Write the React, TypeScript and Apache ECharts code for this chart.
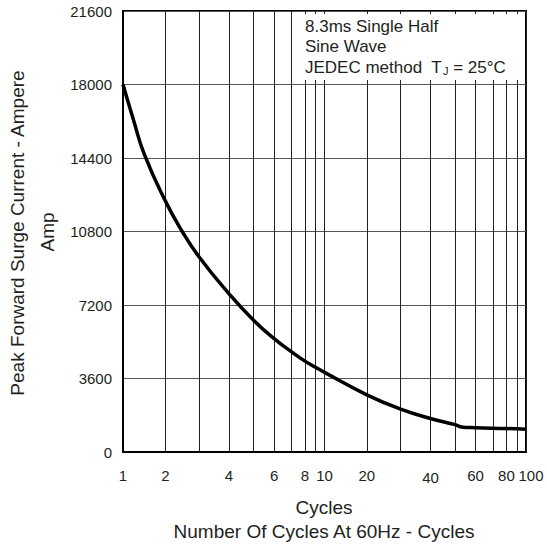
import React, { useEffect, useRef } from "react";
import * as echarts from "echarts";

// ---- data ----
const CYCLES = [1, 1.25, 1.5, 2, 2.5, 3, 4, 5, 6, 7, 8, 9, 10, 20, 30, 40, 50, 53, 60, 80, 100];
const SURGE_AMPS = [18000, 16250, 14600, 12300, 10800, 9550, 7750, 6450, 5550, 4900, 4450, 4150, 3900, 2800, 2100, 1640, 1340, 1225, 1190, 1150, 1110];

// grid lines and labelled ticks of the cycles axis
const X_GRID = [1, 2, 3, 4, 5, 6, 7, 8, 9, 10, 20, 30, 40, 50, 60, 70, 80, 90, 100];
const X_TICK_LABELS = [1, 2, 4, 6, 8, 10, 20, 40, 60, 80, 100];
const Y_TICKS = [0, 3600, 7200, 10800, 14400, 18000, 21600];

// the chart's (hand-drawn, quasi-logarithmic) decade scale: where each mantissa sits within a decade
const MANTISSA = [1, 2, 3, 4, 5, 6, 7, 8, 9, 10];
const DECADE_FRACTION = [0, 0.21, 0.378, 0.526, 0.648, 0.75, 0.837, 0.903, 0.955, 1];

function toPos(c: number): number {
  if (c >= 100) return 2;
  const d = c < 10 ? 0 : 1;
  const m = c / Math.pow(10, d);
  for (let i = 0; i < MANTISSA.length - 1; i++) {
    if (m >= MANTISSA[i] && m <= MANTISSA[i + 1]) {
      const t = (m - MANTISSA[i]) / (MANTISSA[i + 1] - MANTISSA[i]);
      return d + DECADE_FRACTION[i] + t * (DECADE_FRACTION[i + 1] - DECADE_FRACTION[i]);
    }
  }
  return d;
}

const FONT = "Liberation Sans, Arial, Helvetica, sans-serif";
const INK = "#231f20";

export default function App() {
  const ref = useRef<HTMLDivElement>(null);
  useEffect(() => {
    if (!ref.current) return;
    const chart = echarts.init(ref.current, null, { renderer: "svg" });
    const labelMap: Record<string, string> = {};
    X_TICK_LABELS.forEach((c) => {
      labelMap[toPos(c).toFixed(5)] = String(c);
    });
    const lastLabel = X_TICK_LABELS[X_TICK_LABELS.length - 1];
    chart.setOption({
      animation: false,
      backgroundColor: "#fff",
      grid: {
        left: 123,
        right: 21,
        top: 11,
        bottom: 93,
        show: true,
        borderColor: "#000",
        borderWidth: 2,
        backgroundColor: "transparent",
      },
      xAxis: {
        type: "value",
        min: 0,
        max: 2,
        axisLine: { show: true, lineStyle: { color: "#000", width: 2 } },
        axisTick: { show: false, customValues: X_GRID.map(toPos) },
        splitLine: { show: true, lineStyle: { color: "#222", width: 1 } },
        axisLabel: {
          customValues: X_TICK_LABELS.map(toPos),
          formatter: (v: number) => {
            const s = labelMap[v.toFixed(5)] ?? "";
            return s === "40" ? "{low|40}" : s;
          },
          rich: { low: { fontSize: 15, fontFamily: FONT, color: INK, padding: [2, 0, 0, 0] } },
          fontSize: 15,
          fontFamily: FONT,
          color: INK,
          margin: 16,
          hideOverlap: false,
          showMinLabel: true,
          showMaxLabel: false,
        },
      },
      yAxis: {
        type: "value",
        min: 0,
        max: 21600,
        interval: 3600,
        axisLine: { show: true, lineStyle: { color: "#000", width: 2 } },
        axisTick: { show: false },
        splitLine: { show: true, lineStyle: { color: "#555", width: 1.2 } },
        axisLabel: {
          fontSize: 15,
          fontFamily: FONT,
          color: INK,
          margin: 11,
          formatter: (v: number) => (Y_TICKS.includes(v) ? String(v) : ""),
        },
      },
      series: [
        {
          type: "line",
          data: CYCLES.map((c, i) => [toPos(c), SURGE_AMPS[i]]),
          smooth: 0.5,
          showSymbol: false,
          lineStyle: { color: "#000", width: 3.5 },
          z: 5,
        },
      ],
      graphic: [
        {
          type: "rect",
          z: 50,
          shape: { x: 300, y: 14, width: 223, height: 66 },
          style: { fill: "#fff" },
        },
        {
          type: "text",
          z: 51,
          x: 305,
          y: 26,
          style: { text: "8.3ms Single Half", font: `17px ${FONT}`, fill: INK, verticalAlign: "middle" },
        },
        {
          type: "text",
          z: 51,
          x: 305,
          y: 46.5,
          style: { text: "Sine Wave", font: `17px ${FONT}`, fill: INK, verticalAlign: "middle" },
        },
        {
          type: "text",
          z: 51,
          x: 305,
          y: 67,
          style: {
            text: "{a|JEDEC method  T}{s|J}{a| = 25°C}",
            verticalAlign: "middle",
            rich: {
              a: { font: `17px ${FONT}`, fill: INK, color: INK },
              s: { font: `11px ${FONT}`, fill: INK, color: INK, padding: [8, 0, 0, 1] },
            },
          },
        },
        {
          type: "text",
          x: 531,
          y: 475,
          style: { text: String(lastLabel), font: `15px ${FONT}`, fill: INK, align: "center", verticalAlign: "middle" },
        },
        {
          type: "text",
          x: 17.5,
          y: 233,
          rotation: Math.PI / 2,
          style: {
            text: "Peak Forward Surge Current - Ampere",
            font: `19px ${FONT}`,
            fill: INK,
            align: "center",
            verticalAlign: "middle",
          },
        },
        {
          type: "text",
          x: 47.5,
          y: 232,
          rotation: Math.PI / 2,
          style: { text: "Amp", font: `19px ${FONT}`, fill: INK, align: "center", verticalAlign: "middle" },
        },
        {
          type: "text",
          x: 324,
          y: 507,
          style: { text: "Cycles", font: `19px ${FONT}`, fill: INK, align: "center", verticalAlign: "middle" },
        },
        {
          type: "text",
          x: 324,
          y: 531,
          style: {
            text: "Number Of Cycles At 60Hz - Cycles",
            font: `19px ${FONT}`,
            fill: INK,
            align: "center",
            verticalAlign: "middle",
          },
        },
      ],
    });
    return () => chart.dispose();
  }, []);
  return <div ref={ref} style={{ width: 547, height: 545, position: "absolute", left: 0, top: 0 }} />;
}
